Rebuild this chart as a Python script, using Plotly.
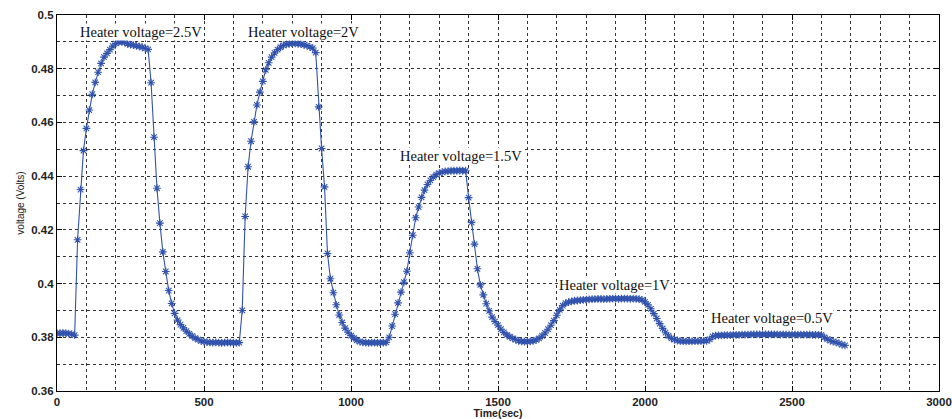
import plotly.graph_objects as go

time_sec = list(range(0, 2690, 10))
voltage = [
    0.3815, 0.3815, 0.3816, 0.3815, 0.3814, 0.3812, 0.3808, 0.4163, 0.4350, 0.4495,
    0.4578, 0.4646, 0.4705, 0.4749, 0.4787, 0.4820, 0.4843, 0.4857, 0.4871, 0.4884,
    0.4894, 0.4899, 0.4900, 0.4898, 0.4893, 0.4890, 0.4888, 0.4885, 0.4883, 0.4880,
    0.4876, 0.4872, 0.4748, 0.4545, 0.4355, 0.4225, 0.4118, 0.4045, 0.3974, 0.3926,
    0.3889, 0.3864, 0.3847, 0.3835, 0.3823, 0.3813, 0.3804, 0.3797, 0.3791, 0.3787,
    0.3784, 0.3782, 0.3781, 0.3780, 0.3781, 0.3780, 0.3779, 0.3780, 0.3781, 0.3780,
    0.3780, 0.3779, 0.3780, 0.3900, 0.4250, 0.4435, 0.4530, 0.4602, 0.4665, 0.4713,
    0.4753, 0.4796, 0.4822, 0.4843, 0.4859, 0.4871, 0.4880, 0.4887, 0.4891, 0.4893,
    0.4894, 0.4894, 0.4893, 0.4892, 0.4889, 0.4886, 0.4881, 0.4877, 0.4860, 0.4658,
    0.4503, 0.4360, 0.4112, 0.4018, 0.3966, 0.3921, 0.3883, 0.3855, 0.3834, 0.3819,
    0.3806, 0.3797, 0.3789, 0.3784, 0.3781, 0.3780, 0.3779, 0.3780, 0.3780, 0.3779,
    0.3780, 0.3780, 0.3781, 0.3800, 0.3842, 0.3886, 0.3928, 0.3968, 0.4005, 0.4046,
    0.4115, 0.4180, 0.4245, 0.4285, 0.4321, 0.4348, 0.4369, 0.4384, 0.4396, 0.4406,
    0.4411, 0.4415, 0.4418, 0.4419, 0.4420, 0.4420, 0.4420, 0.4421, 0.4420, 0.4420,
    0.4320, 0.4228, 0.4147, 0.4055, 0.3995, 0.3958, 0.3925, 0.3898, 0.3875, 0.3859,
    0.3845, 0.3830, 0.3818, 0.3809, 0.3802, 0.3796, 0.3791, 0.3787, 0.3785, 0.3784,
    0.3784, 0.3785, 0.3787, 0.3790, 0.3796, 0.3805, 0.3816, 0.3830, 0.3845, 0.3862,
    0.3882, 0.3902, 0.3918, 0.3927, 0.3931, 0.3934, 0.3936, 0.3937, 0.3938, 0.3939,
    0.3940, 0.3941, 0.3942, 0.3942, 0.3943, 0.3943, 0.3942, 0.3943, 0.3943, 0.3944,
    0.3944, 0.3943, 0.3944, 0.3944, 0.3944, 0.3943, 0.3944, 0.3943, 0.3942, 0.3939,
    0.3932, 0.3921, 0.3906, 0.3888, 0.3870, 0.3851, 0.3833, 0.3817, 0.3805, 0.3796,
    0.3791, 0.3788, 0.3786, 0.3786, 0.3785, 0.3786, 0.3785, 0.3786, 0.3786, 0.3786,
    0.3787, 0.3787, 0.3792, 0.3803, 0.3806, 0.3807, 0.3807, 0.3808, 0.3808, 0.3808,
    0.3809, 0.3809, 0.3809, 0.3810, 0.3810, 0.3810, 0.3811, 0.3811, 0.3811, 0.3811,
    0.3811, 0.3811, 0.3811, 0.3811, 0.3811, 0.3811, 0.3810, 0.3811, 0.3810, 0.3810,
    0.3810, 0.3810, 0.3810, 0.3810, 0.3810, 0.3810, 0.3810, 0.3809, 0.3809, 0.3809,
    0.3809, 0.3800, 0.3793, 0.3788, 0.3784, 0.3781, 0.3777, 0.3773, 0.3770,
]

x_tick_vals = [0, 500, 1000, 1500, 2000, 2500, 3000]
x_tick_text = ["0", "500", "1000", "1500", "2000", "2500", "3000"]
y_tick_vals = [0.36, 0.38, 0.40, 0.42, 0.44, 0.46, 0.48, 0.50]
y_tick_text = ["0.36", "0.38", "0.4", "0.42", "0.44", "0.46", "0.48", "0.5"]

label_text = ["Heater voltage=2.5V", "Heater voltage=2V", "Heater voltage=1.5V",
              "Heater voltage=1V", "Heater voltage=0.5V"]
label_x = [74, 645, 1163, 1705, 2222]
label_y = [0.4937, 0.4937, 0.4475, 0.3995, 0.3872]

line_color = "#3253ad"

fig = go.Figure()
fig.add_trace(go.Scatter(
    x=time_sec, y=voltage, mode="lines+markers",
    line=dict(color=line_color, width=1.1),
    marker=dict(symbol="asterisk-open", size=6.5, color=line_color,
                line=dict(color=line_color, width=1.1)),
    showlegend=False,
))

for t, xx, yy in zip(label_text, label_x, label_y):
    fig.add_annotation(x=xx, y=yy, text=t, showarrow=False, xanchor="left",
                       yanchor="middle", bgcolor="white", borderpad=0,
                       font=dict(family="Liberation Serif", size=14.5, color="#111"))

grid_common = dict(showgrid=True, gridcolor="#333", griddash="3px,3px", gridwidth=1)

fig.update_xaxes(
    range=[0, 3000], tickvals=x_tick_vals, ticktext=x_tick_text,
    ticks="inside", ticklen=5, tickcolor="black",
    showline=True, linecolor="black", linewidth=1.2, mirror="ticks",
    zeroline=False, automargin=False,
    tickfont=dict(family="Liberation Sans", size=11.5, color="#222", weight="bold"),
    minor=dict(dtick=100, showgrid=True, gridcolor="#333", griddash="3px,3px", gridwidth=1),
    title=dict(text="Time(sec)", standoff=0,
               font=dict(family="Liberation Sans", size=10.5, color="#222", weight="bold")),
    **grid_common,
)
fig.update_yaxes(
    range=[0.36, 0.50], tickvals=y_tick_vals, ticktext=y_tick_text,
    ticks="inside", ticklen=5, tickcolor="black",
    showline=True, linecolor="black", linewidth=1.2, mirror="ticks",
    zeroline=False, automargin=False,
    tickfont=dict(family="Liberation Sans", size=11.5, color="#222", weight="bold"),
    minor=dict(dtick=0.01, tick0=0.36, showgrid=True, gridcolor="#333", griddash="3px,3px", gridwidth=1),
    title=dict(text="voltage (Volts)", standoff=4,
               font=dict(family="Liberation Sans", size=10, color="#222")),
    **grid_common,
)

fig.update_layout(
    width=952, height=419,
    margin=dict(l=57, r=13, t=15, b=28),
    paper_bgcolor="white", plot_bgcolor="white",
)

fig.write_html("out.html")
